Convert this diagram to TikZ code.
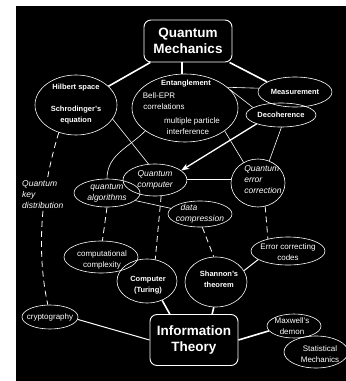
\documentclass[tikz,border=0pt]{standalone}
\usepackage{fontspec}
\setmainfont{Liberation Sans}
\usetikzlibrary{shapes.geometric,arrows.meta}

\begin{document}
\begin{tikzpicture}[x=1pt,y=-1pt,
  every node/.style={text=white, inner sep=0pt},
  bubble/.style 2 args={ellipse, draw=white, line width=0.6pt, minimum width=#1, minimum height=#2},
  hub/.style={draw=white, line width=0.9pt, rounded corners=7pt, align=center, font=\fontsize{13.5}{16}\selectfont\bfseries},
  txt/.style={font=\fontsize{8}{11}\selectfont, align=center},
  txtb/.style={font=\fontsize{7.5}{11}\selectfont\bfseries, align=center},
  txti/.style={font=\fontsize{8.5}{11}\selectfont\itshape, align=center},
  link/.style={draw=white, line width=0.6pt},
  midlink/.style={draw=white, line width=1pt},
  heavy/.style={draw=white, line width=1.6pt},
  dashlink/.style={draw=white, line width=0.8pt, dash pattern=on 6pt off 4pt},
  dbl/.style={draw=white, line width=0.6pt, double=black, double distance=0.8pt},
  arrowlink/.style={draw=white, line width=1.3pt, -{Stealth[length=8pt,width=6pt]}}]
  \useasboundingbox (0,0) rectangle (346,381);
  \fill[black] (16,6) rectangle (346,381);
  % the two big subjects
  \node[hub, minimum width=88, minimum height=42] (qm) at (188,41) {Quantum\\Mechanics};
  \node[hub, minimum width=88, minimum height=51] (it) at (194,340) {Information\\Theory};
  % bubbles
  \node[bubble={82}{60}] (hil) at (76,105) {};
  \node[bubble={106}{68}] (ent) at (185,108) {};
  \node[bubble={74}{30}] (meas) at (295,92) {};
  \node[bubble={70}{24}] (deco) at (281,115) {};
  \node[bubble={64}{32}] (qc) at (155,180) {};
  \node[bubble={66}{28}] (qalg) at (107,193) {};
  \node[bubble={54}{48}] (qec) at (258,183) {};
  \node[bubble={64}{26}] (dc) at (200,214) {};
  \node[bubble={74}{28}] (ecc) at (288,251) {};
  \node[bubble={74}{32}] (cc) at (101,257) {};
  \node[bubble={60}{44}] (tur) at (147,281) {};
  \node[bubble={62}{50}] (sh) at (216,282) {};
  \node[bubble={56}{24}] (cry) at (50,317) {};
  \node[bubble={54}{24}] (mx) at (294,326) {};
  \node[bubble={64}{32}] (sm) at (316,352) {};
  % bubble texts
  \node[txtb] (hil-a) at (76,88) {Hilbert space};
  \node[txtb] (hil-b) at (76,115) {Schrodinger's\\equation};
  \node[txtb] (ent-a) at (186,84) {Entanglement};
  \node[txt] (ent-b) at (159,96) {Bell-EPR};
  \node[txt] (ent-c) at (164,107) {correlations};
  \node[txt] (ent-d) at (192,121) {multiple particle};
  \node[txt] (ent-e) at (188,132) {interference};
  \node[txtb] (meas-t) at (meas) {Measurement};
  \node[txtb] (deco-t) at (deco) {Decoherence};
  \node[txti] (qc-t) at (qc) {Quantum\\computer};
  \node[txti] (qalg-t) at (qalg) {quantum\\algorithms};
  \node[txti, align=left] (qec-t) at (263,180) {Quantum\\error\\correction};
  \node[txti] (dc-t) at (200,214) {data\hspace*{22pt}\\compression};
  \node[txt] (ecc-t) at (288,252) {Error correcting\\codes};
  \node[txt] (cc-t) at (102,260) {computational\\complexity};
  \node[txtb] (tur-t) at (148,285) {Computer\\(Turing)};
  \node[txtb] (sh-t) at (219,279) {Shannon's\\theorem};
  \node[txt] (cry-t) at (cry) {cryptography};
  \node[txt] (mx-t) at (292,326) {Maxwell's\\demon};
  \node[txt] (sm-t) at (320,354) {Statistical\\Mechanics};
  % connectors
  \draw[heavy] (hil.30) -- (qm);
  \draw[heavy] (ent.95) -- (ent.95 |- qm.south);
  \draw[heavy] (qm) -- (meas.160);
  \draw[link] (ent.26) -- (meas.174);
  \draw[link] (ent.22) -- (deco.165);
  \draw[link] (hil.-21) -- (qc.112);
  \draw[link] (ent.210) to[out=225,in=90] (qalg.north);
  \draw[arrowlink] (deco.200) -- (qc.20);
  \draw[link] (ent.-30) -- (qec.125);
  \draw[link] (deco.-88) -- (qec.63);
  \draw[dbl] (qc.east) -- (qc.east -| qec.west);
  \draw[link] (qalg.-15) -- (dc.169);
  \draw[dashlink] (qc.-69) -- (tur.69);
  \draw[dashlink] (qalg.south) -- (cc.85);
  \draw[dashlink] (dc.-80) -- (sh.95);
  \draw[dashlink] (qec.-73) -- (ecc.149);
  \draw[midlink] (ecc.196) -- (sh.22);
  \draw[heavy] (tur.-52) -- (it.133);
  \draw[heavy] (sh.-95) -- (it.55);
  \draw[midlink] (cry.-5) -- (it.west);
  \draw[heavy] (it.east) -- (mx.191);
  \draw[dashlink] (hil.-122) .. controls (38,200) and (38,260) .. (cry.100);
  \node[txti, align=left, anchor=west, fill=black, inner sep=1pt] (qkd) at (21,195) {Quantum\\key\\distribution};
\end{tikzpicture}
\end{document}
